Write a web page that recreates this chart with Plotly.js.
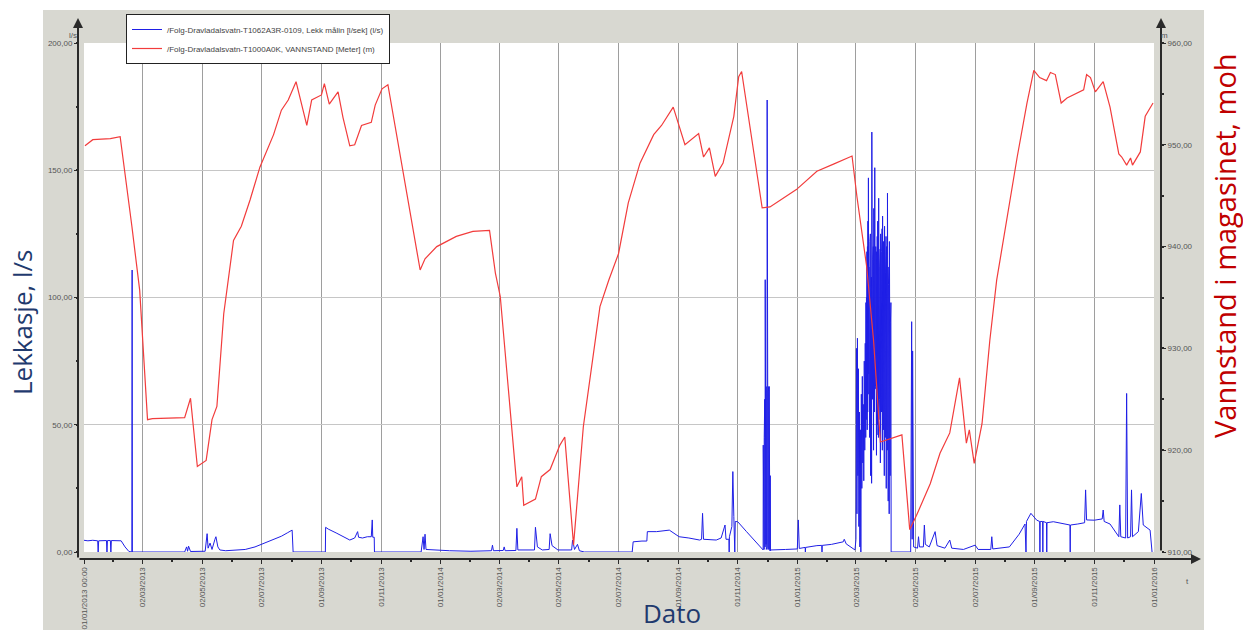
<!DOCTYPE html>
<html><head><meta charset="utf-8">
<script src="https://cdn.plot.ly/plotly-3.0.1.min.js"></script>
<style>html,body{margin:0;padding:0;background:#fff;}#chart{width:1243px;height:630px;}</style>
</head><body><div id="chart"></div>
<script>
const leakName = '/Folg-Dravladalsvatn-T1062A3R-0109, Lekk målin [l/sek] (l/s)';
const levelName = '/Folg-Dravladalsvatn-T1000A0K, VANNSTAND [Meter] (m)';

const leakDates = [
'2013-01-01','2013-01-05','2013-01-10','2013-01-15','2013-01-15 12:00','2013-01-16','2013-01-24','2013-01-24 12:00','2013-01-25','2013-01-28','2013-01-28 12:00','2013-01-29',
'2013-02-08','2013-02-12','2013-02-16','2013-02-19','2013-02-19 06:00','2013-02-19 12:00','2013-04-14','2013-04-16','2013-04-17','2013-04-18','2013-04-20',
'2013-05-05','2013-05-07','2013-05-08','2013-05-10','2013-05-12','2013-05-15','2013-05-16','2013-05-18','2013-05-20','2013-05-26','2013-06-05','2013-06-15','2013-06-25',
'2013-07-05','2013-07-15','2013-07-22','2013-07-28','2013-08-02','2013-08-03','2013-09-05','2013-09-05 06:00','2013-09-08','2013-09-16','2013-09-23','2013-09-30',
'2013-10-05','2013-10-08','2013-10-09','2013-10-13','2013-10-18','2013-10-22','2013-10-23','2013-10-23 12:00','2013-10-25','2013-10-25 06:00',
'2013-12-12','2013-12-13','2013-12-14','2013-12-15','2013-12-16','2013-12-17','2013-12-25','2014-01-10','2014-02-01','2014-02-22','2014-02-23','2014-02-24',
'2014-03-06','2014-03-07','2014-03-08','2014-03-19','2014-03-20','2014-03-21','2014-04-07','2014-04-08','2014-04-10','2014-04-15','2014-04-22','2014-04-23','2014-04-25',
'2014-05-01','2014-05-15','2014-05-16','2014-05-18','2014-05-21','2014-05-23','2014-05-28','2014-07-16','2014-07-17','2014-07-26','2014-07-31','2014-07-31 12:00',
'2014-08-10','2014-08-23','2014-09-02','2014-09-12','2014-09-23','2014-09-25','2014-09-26','2014-09-27','2014-10-10','2014-10-15','2014-10-19','2014-10-20',
'2014-10-23','2014-10-23 06:00','2014-10-23 12:00','2014-10-26','2014-10-27','2014-10-28','2014-10-29','2014-10-29 12:00','2014-11-01','2014-11-10','2014-11-20',
'2014-11-27','2014-11-27 03:00','2014-11-27 06:00','2014-11-27 09:00','2014-11-27 12:00','2014-11-27 15:00','2014-11-27 18:00','2014-11-27 21:00',
'2014-11-28','2014-11-28 03:00','2014-11-28 06:00','2014-11-28 09:00','2014-11-28 12:00','2014-11-28 15:00','2014-11-28 18:00','2014-11-28 21:00',
'2014-11-29','2014-11-29 03:00','2014-11-29 06:00','2014-11-29 09:00','2014-11-29 12:00','2014-11-29 15:00','2014-11-29 18:00','2014-11-29 21:00',
'2014-11-30','2014-11-30 03:00','2014-11-30 06:00','2014-11-30 09:00','2014-11-30 12:00','2014-11-30 15:00','2014-11-30 18:00','2014-11-30 21:00',
'2014-12-01','2014-12-01 03:00','2014-12-01 06:00','2014-12-01 09:00','2014-12-01 12:00','2014-12-01 15:00','2014-12-01 18:00','2014-12-01 21:00',
'2014-12-02','2014-12-02 03:00','2014-12-02 06:00','2014-12-02 09:00','2014-12-02 12:00','2014-12-02 15:00','2014-12-02 18:00','2014-12-02 21:00',
'2014-12-03','2014-12-03 03:00','2014-12-03 06:00','2014-12-03 09:00','2014-12-03 12:00','2014-12-03 15:00','2014-12-03 18:00','2014-12-03 21:00',
'2014-12-04','2014-12-04 06:00','2014-12-04 12:00','2014-12-05',
'2014-12-20','2015-01-01','2015-01-02','2015-01-03','2015-01-09','2015-01-09 06:00','2015-01-09 12:00','2015-01-21','2015-01-26','2015-01-26 06:00','2015-01-26 12:00',
'2015-02-05','2015-02-17','2015-02-18','2015-02-20','2015-03-01',
'2015-03-02','2015-03-02 12:00','2015-03-03','2015-03-03 12:00','2015-03-04','2015-03-04 12:00','2015-03-05','2015-03-05 12:00','2015-03-06','2015-03-06 12:00',
'2015-03-07','2015-03-07 12:00','2015-03-08','2015-03-08 12:00','2015-03-09','2015-03-09 12:00','2015-03-10','2015-03-10 12:00','2015-03-11','2015-03-11 12:00',
'2015-03-12','2015-03-12 06:00','2015-03-12 12:00','2015-03-12 18:00','2015-03-13','2015-03-13 06:00','2015-03-13 12:00','2015-03-13 18:00',
'2015-03-14','2015-03-14 06:00','2015-03-14 12:00','2015-03-14 18:00','2015-03-15','2015-03-15 06:00','2015-03-15 12:00','2015-03-15 18:00',
'2015-03-16','2015-03-16 06:00','2015-03-16 12:00','2015-03-16 18:00','2015-03-17','2015-03-17 06:00','2015-03-17 12:00','2015-03-17 18:00',
'2015-03-18','2015-03-18 06:00','2015-03-18 12:00','2015-03-18 18:00','2015-03-19','2015-03-19 06:00','2015-03-19 12:00','2015-03-19 18:00',
'2015-03-20','2015-03-20 06:00','2015-03-20 12:00','2015-03-20 18:00','2015-03-21','2015-03-21 06:00','2015-03-21 12:00','2015-03-21 18:00',
'2015-03-22','2015-03-22 06:00','2015-03-22 12:00','2015-03-22 18:00','2015-03-23','2015-03-23 06:00','2015-03-23 12:00','2015-03-23 18:00',
'2015-03-24','2015-03-24 06:00','2015-03-24 12:00','2015-03-24 18:00','2015-03-25','2015-03-25 06:00','2015-03-25 12:00','2015-03-25 18:00',
'2015-03-26','2015-03-26 06:00','2015-03-26 12:00','2015-03-26 18:00','2015-03-27','2015-03-27 06:00','2015-03-27 12:00','2015-03-27 18:00',
'2015-03-28','2015-03-28 06:00','2015-03-28 12:00','2015-03-28 18:00','2015-03-29','2015-03-29 06:00','2015-03-29 12:00','2015-03-29 18:00',
'2015-03-30','2015-03-30 06:00','2015-03-30 12:00','2015-03-30 18:00','2015-03-31','2015-03-31 06:00','2015-03-31 12:00','2015-03-31 18:00',
'2015-04-01','2015-04-01 06:00','2015-04-01 12:00','2015-04-01 18:00','2015-04-02','2015-04-02 06:00','2015-04-02 12:00','2015-04-02 18:00',
'2015-04-03','2015-04-03 06:00','2015-04-03 12:00','2015-04-03 18:00','2015-04-04','2015-04-04 06:00','2015-04-04 12:00','2015-04-04 18:00',
'2015-04-05','2015-04-05 06:00','2015-04-05 12:00','2015-04-05 18:00','2015-04-06','2015-04-06 06:00','2015-04-06 12:00','2015-04-06 18:00',
'2015-04-07',
'2015-04-27','2015-04-28','2015-04-28 12:00','2015-04-29','2015-04-30','2015-05-04','2015-05-05','2015-05-06','2015-05-10','2015-05-11','2015-05-12','2015-05-16',
'2015-05-22','2015-05-24','2015-06-01','2015-06-06','2015-06-08','2015-06-20','2015-07-02','2015-07-05','2015-07-18','2015-07-19','2015-07-20',
'2015-08-06','2015-08-16','2015-08-22','2015-08-23','2015-08-23 12:00','2015-08-28','2015-09-03','2015-09-06','2015-09-06 06:00','2015-09-06 12:00',
'2015-09-09','2015-09-09 06:00','2015-09-09 12:00','2015-09-13','2015-09-13 06:00','2015-09-13 12:00','2015-09-20','2015-10-07','2015-10-07 06:00','2015-10-07 12:00',
'2015-10-15','2015-10-22','2015-10-23','2015-10-24','2015-11-01','2015-11-09','2015-11-10','2015-11-11','2015-11-17','2015-11-22','2015-11-26','2015-11-27','2015-11-28',
'2015-12-03','2015-12-04','2015-12-05','2015-12-08','2015-12-09','2015-12-10','2015-12-16','2015-12-19','2015-12-21','2015-12-28','2015-12-30'
];
const leakValues = [
4.6,4.4,4.6,4.4,0,4.4,4.5,0,4.5,4.5,0,4.5,
4.4,2.0,0.2,0,110.8,0,0,2.0,0.3,2.3,0.2,
0.3,7.2,1.5,3.5,1.0,5.0,6.0,2.0,0.8,0.5,0.6,1.0,2.0,
3.5,5.0,6.2,7.5,8.6,0,0,9.7,9.0,7.5,6.0,4.7,
5.5,8.0,5.8,5.5,6.0,6.0,12.6,5.8,5.8,0,
0,2.5,6.0,1.0,7.0,1.0,0.8,0.5,0.3,0.5,2.7,0.5,
0.6,2.0,0.5,0.6,9.3,0.8,0.8,9.7,2.0,0.8,1.0,7.2,2.5,
0.8,0.8,4.7,1.0,3.0,0.5,0,0,4.0,4.3,4.3,8.0,
8.0,8.6,6.0,5.5,4.7,5.0,15.2,5.0,4.7,5.5,10.6,5.0,
5.0,0,6.0,10.0,31.6,14.0,0,12.0,11.9,8.0,4.0,
0.8,42,3,38,1,40,2,35,
1,45,3,52,2,60,4,48,
2,107,5,62,3,85,6,58,
3,65,1,55,2,50,3,62,
2,177.6,4,60,3,65,2,58,
1,63,2,60,1,55,3,65,
1,65,0.5,52,1,40,0.5,35,
0.5,30,0.5,0.8,
1.0,1.2,12.6,1.4,1.8,0,1.8,2.5,2.6,0,2.6,
3.0,4.0,5.0,3.2,0.8,
5,80,15,84,30,72,10,55,2,48,
0,62,25,69,35,58,28,75,40,82,
45,98,52,100,60,118,48,120,
55,130,62,147,70,112,50,110,
45,122,58,125,30,95,44,108,
27,165,66,128,60,115,42,120,
40,135,56,118,55,151,64,126,
65,120,50,112,38,118,46,124,
50,130,58,116,45,139,52,121,
60,112,44,119,35,125,57,110,
55,118,48,127,40,132,62,115,
48,122,40,118,30,128,55,112,
45,110,36,124,25,120,50,108,
40,141,45,118,20,105,38,112,
15,122,42,120,30,90,35,98,
0,
0,90.5,5,79,2,1.5,6.0,2.0,2.0,10.6,3.0,2.0,
8.0,2.5,1.5,4.7,1.5,1.0,2.7,1.0,1.0,6.0,1.2,
2.0,7.0,11.0,0,12.0,15.2,12.5,12.0,0,12.0,
12.0,0,12.0,11.5,0,11.5,11.9,10.6,0,10.6,
11.0,11.5,24.4,12.6,12.5,13.0,16.5,12.0,11.0,8.0,6.0,18.5,6.0,
5.5,62.3,5.5,6.0,24.4,6.0,8.0,23.0,10.6,8.6,0
];

const levelDates = [
'2013-01-02','2013-01-10','2013-01-28','2013-02-07','2013-02-19','2013-02-27','2013-03-07','2013-03-12','2013-04-14','2013-04-20','2013-04-27',
'2013-05-06','2013-05-12','2013-05-17','2013-05-24','2013-06-03','2013-06-11','2013-06-20','2013-06-30','2013-07-14','2013-07-22','2013-07-29',
'2013-08-06','2013-08-17','2013-08-22','2013-09-01','2013-09-04','2013-09-09','2013-09-18','2013-09-23','2013-09-30','2013-10-05','2013-10-12',
'2013-10-22','2013-10-26','2013-11-02','2013-11-08','2013-11-17','2013-12-11','2013-12-16','2013-12-28','2014-01-17','2014-02-03','2014-02-20',
'2014-02-26','2014-03-03','2014-03-20','2014-03-25','2014-03-27','2014-04-08','2014-04-14','2014-04-23','2014-05-03','2014-05-08','2014-05-17',
'2014-05-27','2014-06-13','2014-06-22','2014-07-02','2014-07-12','2014-07-24','2014-08-07','2014-08-15','2014-08-27','2014-09-08','2014-09-22',
'2014-09-27','2014-10-03','2014-10-09','2014-10-17','2014-10-28','2014-11-02','2014-11-05','2014-11-26','2014-12-04','2014-12-31','2015-01-21',
'2015-02-07','2015-02-26','2015-03-03','2015-03-13','2015-03-20','2015-03-27','2015-04-18','2015-04-26','2015-05-03','2015-05-17','2015-05-27',
'2015-06-06','2015-06-16','2015-06-23','2015-06-26','2015-07-01','2015-07-09','2015-07-17','2015-07-24','2015-08-03','2015-08-14','2015-08-24',
'2015-08-31','2015-09-06','2015-09-13','2015-09-17','2015-09-22','2015-09-28','2015-10-04','2015-10-21','2015-10-24','2015-10-28','2015-11-02',
'2015-11-10','2015-11-17','2015-11-26','2015-11-29','2015-12-04','2015-12-08','2015-12-10','2015-12-18','2015-12-23','2015-12-31'
];
const levelValues = [
949.9,950.5,950.6,950.8,942.0,935.7,923.0,923.1,923.2,925.1,918.4,
919.0,923.0,924.3,933.4,940.6,942.0,944.6,947.8,951.0,953.4,954.4,
956.2,951.9,954.4,954.9,956.0,954.0,955.2,952.7,949.9,950.0,951.9,
952.2,953.9,955.5,955.9,951.0,937.7,938.8,940.0,941.0,941.5,941.6,
937.4,935.1,916.4,917.4,914.6,915.2,917.4,918.1,920.5,921.3,910.7,
922.3,934.1,936.7,939.3,944.3,948.2,951.0,951.9,953.7,950.0,951.1,
948.8,949.7,946.9,948.2,952.8,956.7,957.2,943.8,943.9,945.6,947.4,
948.1,948.9,944.9,938.0,930.8,920.8,921.5,912.2,913.6,916.7,919.7,
921.7,927.1,920.7,922.0,918.7,922.6,930.8,936.7,942.6,948.8,954.1,
957.3,956.6,956.3,957.1,956.9,954.1,954.6,955.4,956.9,956.6,955.2,
956.2,953.7,949.1,948.8,948.0,948.7,948.0,949.3,952.8,954.1
];

const xTickVals = ['2013-01-01','2013-03-02','2013-05-02','2013-07-02','2013-09-01','2013-11-01','2014-01-01','2014-03-02','2014-05-02','2014-07-02',
'2014-09-01','2014-11-01','2015-01-01','2015-03-02','2015-05-02','2015-07-02','2015-09-01','2015-11-01','2016-01-01'];
const xTickText = ['01/01/2013 00:00','02/03/2013','02/05/2013','02/07/2013','01/09/2013','01/11/2013','01/01/2014','02/03/2014','02/05/2014','02/07/2014',
'01/09/2014','01/11/2014','01/01/2015','02/03/2015','02/05/2015','02/07/2015','01/09/2015','01/11/2015','01/01/2016'];
const leftTicks = [0,50,100,150,200];
const rightTicks = [910,920,930,940,950,960];

const W = 1243, H = 630;
const px = v => v / W;
const py = v => 1 - v / H;

const xMinor = [];
for (let i = 0; i < xTickVals.length - 1; i++) {
  const a = new Date(xTickVals[i] + 'T00:00:00Z').getTime();
  const b = new Date(xTickVals[i + 1] + 'T00:00:00Z').getTime();
  xMinor.push(new Date((a + b) / 2).toISOString().slice(0, 19).replace('T', ' '));
}

const tickFont = {family: 'Liberation Sans, Arial, sans-serif', size: 8, color: '#555'};
const axisCol = '#2a2a2a';

const traces = [
  {x: leakDates, y: leakValues, name: leakName, type: 'scatter', mode: 'lines',
   line: {color: '#1f1fe6', width: 1}, yaxis: 'y', xaxis: 'x'},
  {x: levelDates, y: levelValues, name: levelName, type: 'scatter', mode: 'lines',
   line: {color: '#f23c3c', width: 1.2}, yaxis: 'y2', xaxis: 'x'}
];

const arrow = (hx, hy, ax, ay) => ({x: px(hx), y: py(hy), xref: 'paper', yref: 'paper', text: '',
  showarrow: true, ax: ax, ay: ay, axref: 'pixel', ayref: 'pixel', arrowhead: 2, arrowsize: 1,
  arrowwidth: 2, arrowcolor: axisCol, standoff: 0, startstandoff: 0});

const layout = {
  width: W, height: H, margin: {l: 0, r: 0, t: 0, b: 0, pad: 0},
  paper_bgcolor: '#ffffff', plot_bgcolor: 'rgba(0,0,0,0)',
  separators: ', ',
  showlegend: true,
  legend: {x: px(126), y: py(14), xanchor: 'left', yanchor: 'top', bgcolor: '#ffffff',
    bordercolor: '#222', borderwidth: 1, font: {family: 'Liberation Sans, Arial, sans-serif', size: 8, color: '#444'},
    itemwidth: 30, tracegroupgap: 0},
  xaxis: {type: 'date', domain: [px(84), px(1154)], range: ['2013-01-01', '2016-01-01'],
    anchor: 'free', position: 1 - 559 / H, tickmode: 'array', tickvals: xTickVals, ticktext: xTickText,
    tickangle: -90, ticks: 'outside', ticklen: 4, tickwidth: 1, tickcolor: axisCol, tickfont: tickFont,
    showgrid: true, gridcolor: '#9e9e9e', gridwidth: 1, zeroline: false, showline: false,
    minor: {tickvals: xMinor, ticks: 'outside', ticklen: 2, tickwidth: 2, tickcolor: axisCol, showgrid: false}},
  yaxis: {domain: [1 - 552 / H, 1 - 43 / H], range: [0, 200], anchor: 'free', position: px(78),
    tickmode: 'array', tickvals: leftTicks, tickformat: '.2f', ticks: 'outside', ticklen: 4, tickwidth: 1,
    tickcolor: axisCol, tickfont: tickFont, showgrid: true, gridcolor: '#c6c6c6', gridwidth: 1,
    zeroline: false, showline: false,
    minor: {dtick: 25, tick0: 0, ticks: 'outside', ticklen: 2, tickwidth: 2, tickcolor: axisCol, showgrid: false}},
  yaxis2: {overlaying: 'y', side: 'right', anchor: 'free', position: px(1161), range: [910, 960],
    tickmode: 'array', tickvals: rightTicks, tickformat: '.2f', ticks: 'outside', ticklen: 4, tickwidth: 1,
    tickcolor: axisCol, tickfont: tickFont, showgrid: false, zeroline: false, showline: false,
    minor: {dtick: 5, tick0: 910, ticks: 'outside', ticklen: 2, tickwidth: 2, tickcolor: axisCol, showgrid: false}},
  shapes: [
    {type: 'rect', xref: 'paper', yref: 'paper', x0: px(43), x1: px(1204), y0: py(630), y1: py(10),
     fillcolor: '#d8d8d1', line: {width: 0}, layer: 'below'},
    {type: 'rect', xref: 'paper', yref: 'paper', x0: px(84), x1: px(1154), y0: py(552), y1: py(43),
     fillcolor: '#ffffff', line: {width: 0}, layer: 'below'}
  ],
  annotations: [
    arrow(78, 18, 0, 541),
    arrow(1161, 18, 0, 534),
    arrow(1201, 559, -1123, 0),
    {x: px(67), y: py(29), xref: 'paper', yref: 'paper', text: 'l/s', showarrow: false, font: tickFont},
    {x: px(1170), y: py(29), xref: 'paper', yref: 'paper', text: 'm', showarrow: false, font: tickFont},
    {x: px(1191), y: py(588), xref: 'paper', yref: 'paper', text: 't', showarrow: false, font: tickFont},
    {x: px(22), y: py(323), xref: 'paper', yref: 'paper', text: 'Lekkasje, l/s', textangle: -90, showarrow: false,
     xanchor: 'center', yanchor: 'middle', font: {family: 'Open Sans, sans-serif', size: 26, color: '#1f3a6e'}},
    {x: px(672), y: py(613), xref: 'paper', yref: 'paper', text: 'Dato', showarrow: false,
     xanchor: 'center', yanchor: 'middle', font: {family: 'Open Sans, sans-serif', size: 26, color: '#1f3a6e'}},
    {x: px(1225), y: py(246), xref: 'paper', yref: 'paper', text: 'Vannstand i magasinet, moh', textangle: -90, showarrow: false,
     xanchor: 'center', yanchor: 'middle', font: {family: 'Open Sans, sans-serif', size: 29, color: '#c00000'}}
  ]
};

Plotly.newPlot('chart', traces, layout, {displayModeBar: false, staticPlot: true});
</script>
</body></html>
